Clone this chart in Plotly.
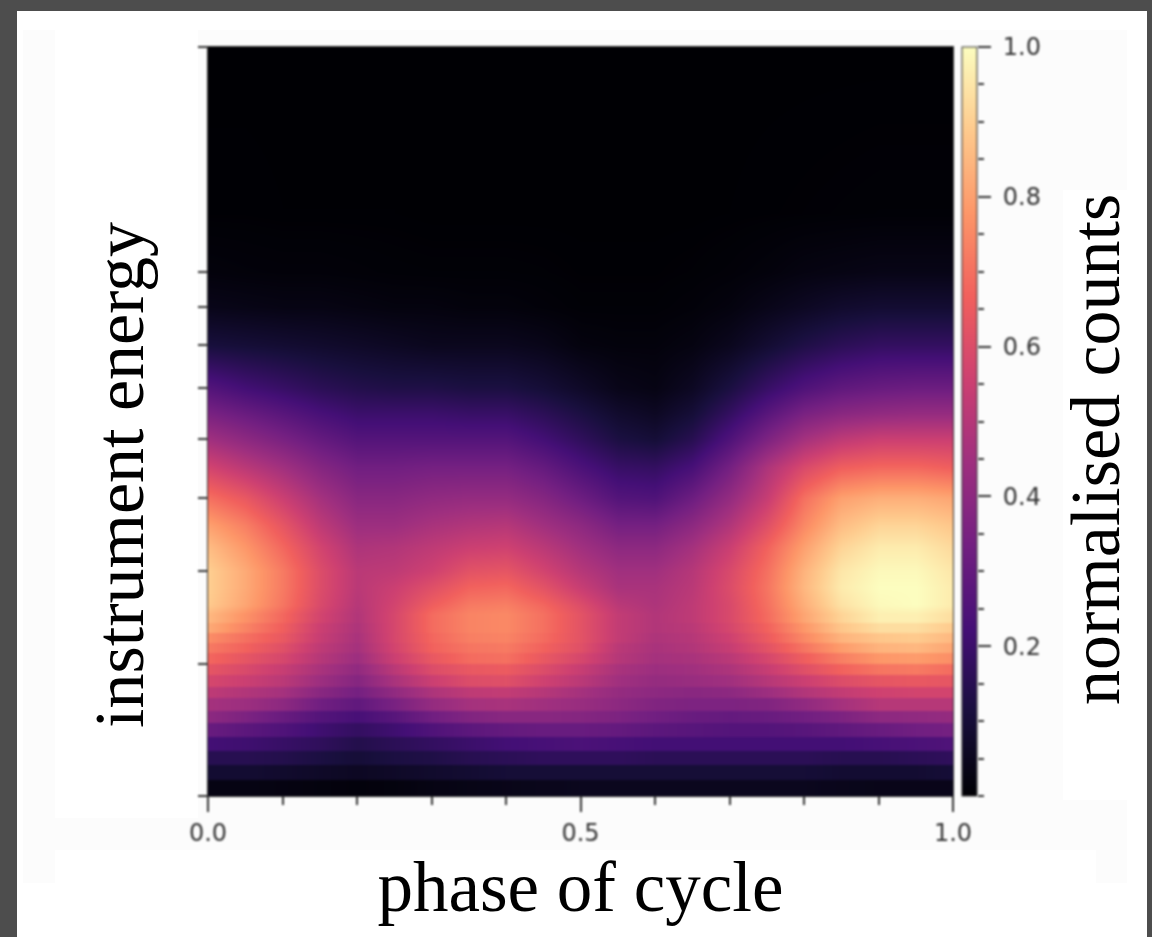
import plotly.graph_objects as go

TITLE_X = "phase of cycle"
TITLE_Y = "instrument energy"
TITLE_CB = "normalised counts"

phase = [0.0, 0.05, 0.1, 0.15, 0.2, 0.25, 0.3, 0.35, 0.4, 0.45, 0.5,
         0.55, 0.6, 0.65, 0.7, 0.75, 0.8, 0.85, 0.9, 0.95, 1.0]

# Low-energy channels are visibly discrete: 0.1 wide, constant inside a channel
band_edges = [2.0, 2.1, 2.2, 2.3, 2.4, 2.5, 2.6, 2.7, 2.8, 2.9, 3.0, 3.1, 3.2, 3.3, 3.4, 3.5]
band_counts = [
    [.03, .03, .025, .02, .015, .02, .03, .035, .04, .045, .05, .05, .05, .05, .05, .05, .05, .045, .04, .04, .04],
    [.09, .09, .08, .07, .06, .07, .08, .09, .10, .10, .10, .10, .10, .10, .10, .10, .10, .09, .09, .09, .10],
    [.15, .15, .14, .12, .10, .12, .13, .15, .16, .17, .17, .17, .16, .16, .16, .16, .16, .15, .15, .16, .17],
    [.22, .21, .19, .17, .14, .16, .18, .20, .22, .23, .24, .23, .22, .22, .22, .22, .22, .22, .23, .24, .25],
    [.31, .28, .25, .21, .18, .21, .25, .28, .30, .31, .31, .30, .28, .27, .26, .26, .27, .29, .31, .33, .34],
    [.40, .36, .31, .26, .23, .27, .33, .37, .39, .39, .38, .36, .33, .31, .30, .31, .33, .36, .40, .41, .42],
    [.46, .44, .40, .33, .29, .35, .42, .46, .47, .45, .43, .40, .37, .36, .36, .37, .41, .46, .50, .50, .50],
    [.52, .49, .46, .39, .34, .41, .48, .52, .53, .50, .46, .42, .40, .39, .40, .44, .49, .53, .56, .57, .57],
    [.58, .55, .51, .44, .38, .47, .55, .60, .61, .56, .51, .45, .42, .43, .45, .50, .55, .60, .63, .64, .63],
    [.63, .59, .54, .47, .41, .51, .60, .64, .65, .60, .54, .47, .44, .45, .48, .54, .61, .67, .71, .72, .69],
    [.68, .63, .58, .50, .44, .55, .64, .69, .70, .64, .58, .50, .46, .47, .51, .58, .66, .73, .78, .79, .76],
    [.72, .67, .61, .52, .46, .57, .67, .71, .72, .67, .61, .51, .47, .49, .54, .62, .71, .79, .84, .85, .81],
    [.76, .70, .64, .54, .47, .58, .68, .73, .74, .69, .62, .53, .48, .50, .56, .65, .75, .84, .88, .89, .85],
    [.82, .74, .66, .55, .48, .58, .69, .74, .75, .70, .62, .53, .49, .51, .58, .67, .78, .88, .93, .93, .89],
    [.85, .77, .68, .57, .49, .58, .69, .74, .75, .70, .62, .53, .49, .52, .59, .69, .81, .91, .97, .97, .93],
]

# Higher energies read as a smooth field
smooth_energy = [3.6, 3.8, 4.0, 4.3, 4.6, 5.0, 5.5, 6.0, 6.5, 7.0, 8.0, 9.0, 10.0, 12.0, 20.0]
smooth_counts = [
    [.89, .81, .71, .59, .50, .57, .66, .72, .73, .68, .60, .51, .48, .52, .59, .70, .83, .94, .99, 1.0, .96],
    [.90, .82, .72, .60, .51, .55, .61, .67, .68, .62, .54, .47, .47, .51, .60, .71, .85, .96, 1.0, 1.0, .96],
    [.90, .82, .72, .60, .51, .52, .56, .62, .63, .57, .50, .45, .45, .50, .59, .70, .84, .95, .99, .99, .95],
    [.86, .78, .68, .57, .48, .49, .52, .55, .56, .51, .45, .40, .40, .46, .55, .67, .80, .91, .96, .96, .92],
    [.80, .73, .63, .52, .44, .44, .47, .49, .50, .45, .40, .34, .34, .40, .49, .61, .75, .86, .91, .91, .88],
    [.70, .64, .55, .46, .39, .39, .41, .42, .42, .38, .32, .26, .25, .32, .42, .54, .70, .80, .83, .83, .81],
    [.57, .51, .45, .38, .33, .33, .34, .34, .34, .30, .24, .19, .18, .23, .34, .48, .59, .66, .68, .68, .66],
    [.45, .40, .35, .30, .26, .26, .26, .26, .26, .22, .17, .12, .10, .15, .25, .36, .46, .52, .55, .55, .55],
    [.35, .31, .27, .23, .20, .20, .20, .19, .19, .16, .12, .08, .06, .10, .18, .27, .35, .39, .41, .42, .42],
    [.26, .22, .19, .16, .14, .13, .13, .12, .12, .10, .07, .04, .03, .06, .12, .19, .25, .29, .31, .32, .32],
    [.11, .10, .09, .08, .07, .06, .05, .05, .05, .04, .02, .015, .015, .025, .05, .09, .13, .16, .18, .18, .18],
    [.04, .035, .03, .03, .025, .02, .02, .015, .015, .01, .005, .005, .005, .01, .02, .04, .06, .08, .09, .09, .09],
    [.015, .012, .01, .01, .008, .006, .005, .005, .005, .004, .002, .002, .002, .004, .008, .015, .025, .03, .035, .035, .035],
    [.002, .002, .001, .001, .001, .001, 0, 0, 0, 0, 0, 0, 0, 0, .001, .002, .003, .004, .005, .005, .005],
    [0, 0, 0, 0, 0, 0, 0, 0, 0, 0, 0, 0, 0, 0, 0, 0, 0, 0, 0, 0, 0],
]

energy_ticks = [2, 3, 4, 5, 6, 7, 8, 9, 10, 20]
cb_ticks = [0.2, 0.4, 0.6, 0.8, 1.0]
phase_ticks = [0.0, 0.5, 1.0]

# Step rows for channels: each channel's value is held across its width
energy, counts = [], []
for i, row in enumerate(band_counts):
    energy += [band_edges[i] + 0.0005, band_edges[i + 1] - 0.0005]
    counts += [row, row]
energy += smooth_energy
counts += smooth_counts

W, H = 1152, 937
L, R, T, B = 208, 953, 47, 796
INK = "#333333"
px = lambda v: v / W
py = lambda v: 1 - v / H


def patch(x0, y0, x1, y1, color):
    return dict(type="rect", xref="paper", yref="paper", layer="below",
                x0=px(x0), x1=px(x1), y0=py(y0), y1=py(y1),
                fillcolor=color, line_width=0)


fig = go.Figure()
fig.add_trace(go.Heatmap(
    x=phase, y=energy, z=counts, zmin=0, zmax=1, zsmooth="best",
    colorscale="Magma",
    colorbar=dict(
        x=px(962), xanchor="left", xpad=0, y=py((T + B) / 2), yanchor="middle", ypad=0,
        len=(B - T) / H, lenmode="fraction", thickness=15, thicknessmode="pixels",
        outlinecolor=INK, outlinewidth=1, ticks="", showticklabels=False,
    ),
    hovertemplate="phase %{x}<br>energy %{y}<br>counts %{z}<extra></extra>",
))
# Scale beside the colour bar: it carries the bar's long and short ticks and labels
fig.add_trace(go.Scatter(x=[0, 0], y=[0, 1], yaxis="y2", mode="markers",
                         marker=dict(opacity=0), hoverinfo="skip", showlegend=False))

fig.update_layout(
    width=W, height=H, autosize=False,
    margin=dict(l=0, r=0, t=0, b=0, autoexpand=False),
    paper_bgcolor="#4d4d4d", plot_bgcolor="rgba(0,0,0,0)",
    showlegend=False,
    xaxis=dict(
        domain=[px(L), px(R)],
        range=[0, 1], tickmode="array", tickvals=phase_ticks,
        ticktext=[f"{v:.1f}" for v in phase_ticks],
        ticks="outside", ticklen=15, tickwidth=1.5, tickcolor=INK,
        tickfont=dict(family="DejaVu Sans", size=24, color=INK),
        minor=dict(ticks="outside", dtick=0.1, ticklen=8, tickwidth=1.5, tickcolor=INK),
        showline=True, mirror=True, linecolor=INK, linewidth=1,
        showgrid=False, zeroline=False,
        title=dict(text=TITLE_X, standoff=15,
                   font=dict(family="Liberation Serif", size=71, color="#000000")),
    ),
    yaxis=dict(
        domain=[py(B), py(T)],
        type="log", range=[0.30103, 1.30103], tickmode="array", tickvals=energy_ticks,
        showticklabels=False, ticks="outside", ticklen=9, tickwidth=1.5, tickcolor=INK,
        showline=True, mirror=True, linecolor=INK, linewidth=1,
        showgrid=False, zeroline=False,
    ),
    yaxis2=dict(
        domain=[py(B), py(T)],
        overlaying="y", side="right", anchor="free", position=px(977), range=[0, 1],
        tickmode="array", tickvals=cb_ticks, ticktext=[f"{v:.1f}" for v in cb_ticks],
        ticks="outside", ticklen=13, tickwidth=1.5, tickcolor=INK,
        tickfont=dict(family="DejaVu Sans", size=24, color=INK), ticklabelstandoff=7,
        showgrid=False, zeroline=False, showline=False,
        minor=dict(ticks="outside", dtick=0.05, ticklen=6, tickwidth=1.5, tickcolor=INK),
    ),
    shapes=[
        patch(17, 11, 1147, H, "#ffffff"),
        patch(23, 30, 1127, 883, "#fcfcfc"),
        patch(55, 30, 198, 818, "#ffffff"),
        patch(1063, 190, 1127, 800, "#ffffff"),
        patch(55, 850, 1096, H, "#ffffff"),
    ],
    annotations=[
        dict(text=TITLE_Y, xref="paper", yref="paper", x=px(120), y=py(475),
             xanchor="center", yanchor="middle", textangle=-90, showarrow=False,
             font=dict(family="Liberation Serif", size=70, color="#000000")),
        dict(text=TITLE_CB, xref="paper", yref="paper", x=px(1096), y=py(450),
             xanchor="center", yanchor="middle", textangle=-90, showarrow=False,
             font=dict(family="Liberation Serif", size=70, color="#000000")),
    ],
)

# The reference is a soft raster: only its plot and tick lettering are blurred, not its titles
soften = """
document.body.style.margin='0';
document.querySelectorAll('.cartesianlayer, .colorbar').forEach(function(el){el.style.filter='blur(0.8px)';});
"""
fig.write_html("out.html", post_script=soften, config={"displayModeBar": False})
